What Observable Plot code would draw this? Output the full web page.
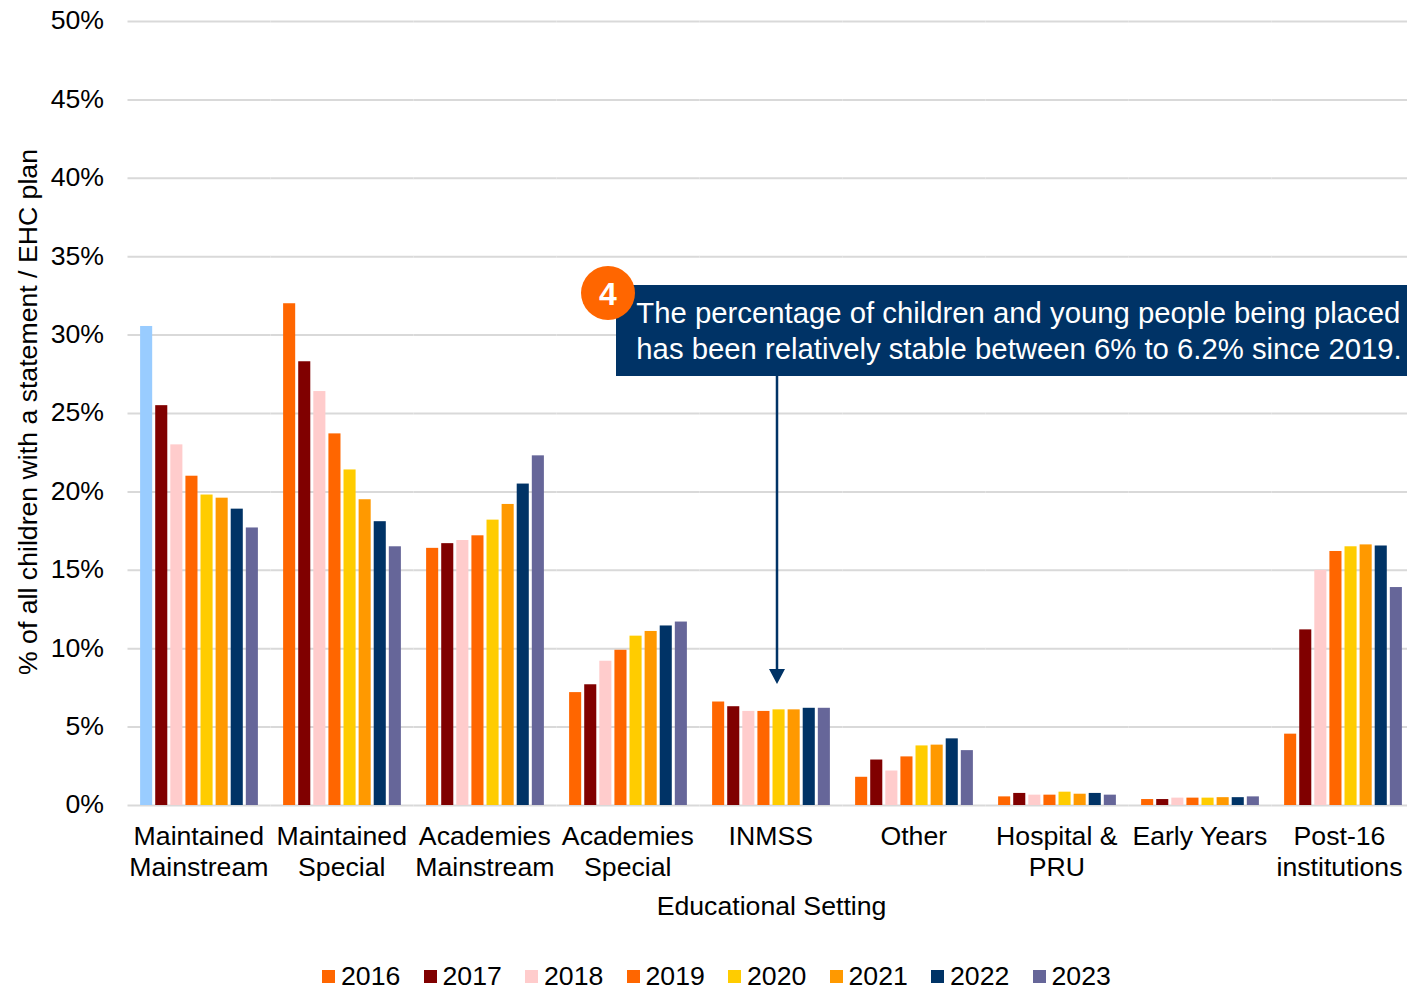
<!DOCTYPE html>
<html>
<head>
<meta charset="utf-8">
<script src="https://cdn.jsdelivr.net/npm/d3@7"></script>
<script src="https://cdn.jsdelivr.net/npm/@observablehq/plot@0.6"></script>
<style>
html,body{margin:0;padding:0;background:#fff;overflow:hidden;font-family:"Liberation Sans",Arial,sans-serif}
#legend{display:flex;height:26px;padding-left:322px;font-size:26.67px;color:#000;margin-top:2px}
.item{display:flex;align-items:center;margin-right:23.2px;height:26px;padding-top:1px;box-sizing:content-box}
.swatch{width:13px;height:13px;margin-right:6px;display:block}
.name{display:block;line-height:20px;height:20px}
svg{display:block}
</style>
</head>
<body>
<div id="chart"></div>
<div id="legend"></div>
<script>
const categories = ["Maintained\nMainstream","Maintained\nSpecial","Academies\nMainstream","Academies\nSpecial","INMSS","Other","Hospital &\nPRU","Early Years","Post-16\ninstitutions"];
const years = ["2016","2017","2018","2019","2020","2021","2022","2023"];
const yearColors = ["#FF6600","#800000","#FFCCCC","#FF6600","#FFCC00","#FF9900","#003366","#666699"];
const firstBarColor = "#99CCFF";
const maintainedMainstream = [30.55,25.5,23.0,21.0,19.8,19.6,18.9,17.7];
const maintainedSpecial = [32.0,28.3,26.4,23.7,21.4,19.5,18.1,16.5];
const academiesMainstream = [16.4,16.7,16.9,17.2,18.2,19.2,20.5,22.3];
const academiesSpecial = [7.2,7.7,9.2,9.9,10.8,11.1,11.45,11.7];
const inmss = [6.6,6.3,6.0,6.0,6.1,6.1,6.2,6.2];
const other = [1.8,2.9,2.2,3.1,3.8,3.85,4.25,3.5];
const hospitalPru = [0.55,0.77,0.66,0.66,0.85,0.72,0.77,0.66];
const earlyYears = [0.38,0.38,0.47,0.47,0.47,0.5,0.5,0.55];
const post16 = [4.55,11.2,15.0,16.2,16.5,16.62,16.55,13.9];
const seriesByCategory = [maintainedMainstream,maintainedSpecial,academiesMainstream,academiesSpecial,inmss,other,hospitalPru,earlyYears,post16];
const yTicks = [0,5,10,15,20,25,30,35,40,45,50];
const yAxisLabel = "% of all children with a statement / EHC plan";
const calloutLines = ["The percentage of children and young people being placed","has been relatively stable between 6% to 6.2% since 2019."];
const calloutNumber = "4";

const rows = [];
seriesByCategory.forEach((vals,c)=>vals.forEach((v,i)=>rows.push({
  category:categories[c],year:years[i],value:v,
  color:(c===0&&i===0)?firstBarColor:yearColors[i]
})));

const FONT = '"Liberation Sans",Arial,sans-serif';
const NAVY = "#003366", ORANGE = "#FF6600";

function callout(index,scales,values,dims){
  const g = d3.create("svg:g").attr("aria-label","callout");
  g.append("line").attr("x1",777).attr("x2",777).attr("y1",376).attr("y2",672).attr("stroke",NAVY).attr("stroke-width",2.5);
  g.append("path").attr("d","M769,669L785,669L777,684Z").attr("fill",NAVY);
  g.append("rect").attr("x",616).attr("y",285).attr("width",791).attr("height",91).attr("fill",NAVY);
  g.append("circle").attr("cx",608).attr("cy",293).attr("r",27).attr("fill",ORANGE);
  g.append("text").attr("x",608).attr("y",293).attr("dy","0.36em").attr("text-anchor","middle")
    .attr("fill","#fff").attr("font-weight","bold").attr("font-size",32).attr("font-family",FONT).text(calloutNumber);
  calloutLines.forEach((t,i)=>g.append("text").attr("x",636.3).attr("y",312.5+36*i).attr("dy","0.36em").attr("text-anchor","start")
    .attr("fill","#fff").attr("font-size",29.3).attr("font-family",FONT).text(t));
  return g.node();
}

const plot = Plot.plot({
  width:1407,height:960,
  marginTop:21,marginBottom:155,marginLeft:127.5,marginRight:-7.5,
  style:{fontFamily:FONT,fontSize:"26.67px",color:"#000",background:"#fff",overflow:"hidden"},
  fx:{domain:categories,padding:0,round:false,label:null},
  x:{domain:years,paddingInner:0.2,paddingOuter:0.835,round:false,axis:null},
  y:{domain:[0,50]},
  color:{type:"identity"},
  marks:[
    Plot.ruleY(yTicks,{stroke:"#D9D9D9",strokeWidth:2}),
    Plot.barY(rows,{fx:"category",x:"year",y:"value",fill:"color"}),
    Plot.axisY({ticks:yTicks,tickSize:0,tickPadding:24,dy:-0.7,fontSize:26.67,tickFormat:d=>d+"%",label:null}),
    Plot.text([yAxisLabel],{facet:"super",frameAnchor:"left",text:d=>d,rotate:-90,dx:-99.5,dy:-1.5,fontSize:26.67,lineAnchor:"middle",textAnchor:"middle",fill:"#000"}),
    Plot.axisFx({ticks:categories.slice(0,8),anchor:"bottom",tickSize:0,tickPadding:18,dx:-0.7,fontSize:26.67,lineHeight:1.16,
      label:"Educational Setting",labelAnchor:"center",labelArrow:"none",labelOffset:109}),
    Plot.axisFx({ticks:categories.slice(8),anchor:"bottom",tickSize:0,tickPadding:18,dx:-4,fontSize:26.67,lineHeight:1.16,label:null}),
    Plot.text([calloutNumber],{facet:"super",frameAnchor:"middle",text:d=>d,render:callout})
  ]
});
document.getElementById("chart").appendChild(plot);

const legend = d3.select("#legend");
years.forEach((y,i)=>{
  const it = legend.append("div").attr("class","item");
  it.append("span").attr("class","swatch").style("background",yearColors[i]);
  it.append("span").attr("class","name").text(y);
});
</script>
</body>
</html>
